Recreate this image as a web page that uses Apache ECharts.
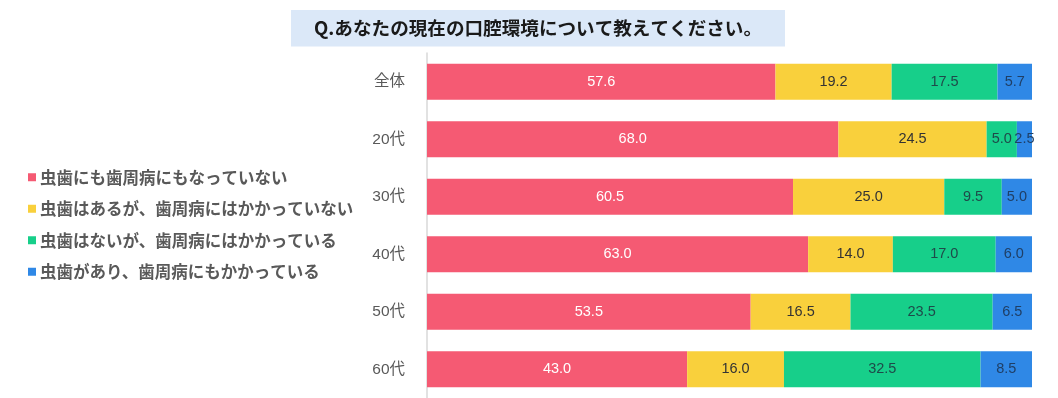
<!DOCTYPE html>
<html><head><meta charset="utf-8">
<script src="https://cdn.jsdelivr.net/npm/echarts@6/dist/echarts.min.js"></script>
<style>html,body{margin:0;padding:0;background:#fff}#c{width:1058px;height:398px}</style>
</head><body><div id="c"></div>
<script>
const categories = ['全体','20代','30代','40代','50代','60代'];
const seriesNames = ['虫歯にも歯周病にもなっていない','虫歯はあるが、歯周病にはかかっていない','虫歯はないが、歯周病にはかかっている','虫歯があり、歯周病にもかかっている'];
const s1 = [57.6, 68.0, 60.5, 63.0, 53.5, 43.0];
const s2 = [19.2, 24.5, 25.0, 14.0, 16.5, 16.0];
const s3 = [17.5, 5.0, 9.5, 17.0, 23.5, 32.5];
const s4 = [5.7, 2.5, 5.0, 6.0, 6.5, 8.5];
const colors = ['#f55a73','#f9d03c','#17cf8a','#2f88e6'];
const labelColors = ['#ffffff','#333333','#1f4a4a','#1f3f66'];
const data = [s1,s2,s3,s4];
const font = '"Noto Sans CJK JP","Noto Sans",sans-serif';
const chart = echarts.init(document.getElementById('c'));
chart.setOption({
  animation:false,
  title:{text:'Q.あなたの現在の口腔環境について教えてください。',left:291,top:10,
    padding:[9,23,9,23],backgroundColor:'#dbe8f8',
    textStyle:{fontSize:18.6,fontWeight:'bold',color:'#1a1a1a',fontFamily:font}},
  legend:{orient:'vertical',left:23,top:164,itemWidth:8,itemHeight:8,itemGap:15,icon:'rect',
    textStyle:{fontSize:16.5,fontWeight:'bold',color:'#595959',fontFamily:font,padding:[0,0,0,-1]},data:seriesNames},
  grid:{left:427,right:26,top:53,bottom:0,containLabel:false},
  xAxis:{type:'value',min:0,max:100,show:false},
  yAxis:{type:'category',data:categories,inverse:true,
    axisLine:{show:true,lineStyle:{color:'#d9d9d9',width:1.5}},axisTick:{show:false},
    axisLabel:{fontSize:15.5,color:'#595959',margin:22,fontFamily:'"Liberation Sans","Noto Sans CJK JP",sans-serif'}},
  series:data.map((d,i)=>({name:seriesNames[i],type:'bar',stack:'t',data:d,barWidth:36,
    itemStyle:{color:colors[i]},
    label:{show:true,position:'inside',formatter:p=>p.value.toFixed(1),fontSize:14.5,
      color:labelColors[i],fontFamily:'"Liberation Sans",sans-serif'}}))
});
</script></body></html>
